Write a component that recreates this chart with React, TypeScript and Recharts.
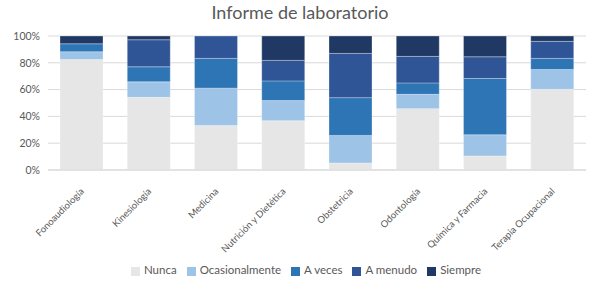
import React from 'react';
import { BarChart, Bar, XAxis, YAxis, CartesianGrid, Legend } from 'recharts';

const categories = [
  'Fonoaudiología',
  'Kinesiología',
  'Medicina',
  'Nutrición y Dietética',
  'Obstetricia',
  'Odontología',
  'Química y Farmacia',
  'Terapia Ocupacional',
];
const nunca = [82.4, 54.2, 33.3, 36.8, 5.3, 45.8, 10.5, 60.2];
const ocasionalmente = [5.9, 11.6, 27.8, 15.0, 20.5, 10.7, 15.8, 14.8];
const aVeces = [5.9, 11.2, 22.2, 14.7, 28.2, 8.5, 42.0, 8.3];
const aMenudo = [0, 20.2, 16.7, 15.3, 33.0, 19.8, 16.2, 12.7];
const siempre = [5.8, 2.8, 0, 18.2, 13.0, 15.2, 15.5, 4.0];
const yTicks = [0, 20, 40, 60, 80, 100];

const seriesNames = ['Nunca', 'Ocasionalmente', 'A veces', 'A menudo', 'Siempre'];
const seriesColors = ['#E7E6E6', '#9DC3E6', '#2E75B6', '#2F5597', '#203864'];
const seriesValues = [nunca, ocasionalmente, aVeces, aMenudo, siempre];

const data = categories.map((c, i) => {
  const row: any = { name: c };
  seriesNames.forEach((s, j) => {
    row[s] = seriesValues[j][i];
  });
  return row;
});

const FONT = 'Lato, "Liberation Sans", sans-serif';
const TEXT = '#595959';

const XTick = (props: any) => {
  const { x, y, payload } = props;
  return (
    <g transform={`translate(${x + 3},${y + 14})`}>
      <text
        x={0}
        y={0}
        textAnchor="end"
        transform="rotate(-45)"
        fill={TEXT}
        fontSize={9.5}
        fontFamily={FONT}
      >
        {payload.value}
      </text>
    </g>
  );
};

export default function App() {
  return (
    <div style={{ position: 'absolute', left: 0, top: 0, width: 600, height: 292, background: '#fff' }}>
      <div
        style={{
          position: 'absolute',
          top: 0,
          left: 0,
          width: 600,
          textAlign: 'center',
          fontFamily: FONT,
          fontSize: 18,
          color: TEXT,
          lineHeight: '24px',
        }}
      >
        Informe de laboratorio
      </div>
      <BarChart
        width={600}
        height={292}
        data={data}
        margin={{ top: 36, right: 14, left: 0, bottom: 33 }}
        barSize={43}
      >
        <CartesianGrid vertical={false} stroke="#D9D9D9" />
        <XAxis
          dataKey="name"
          tick={<XTick />}
          tickLine={false}
          axisLine={{ stroke: '#D9D9D9' }}
          interval={0}
          height={76}
        />
        <YAxis
          type="number"
          domain={[0, 100]}
          ticks={yTicks}
          tickFormatter={(v: number) => `${v}%`}
          tick={{ fill: TEXT, fontSize: 10.5, fontFamily: FONT }}
          tickLine={false}
          axisLine={false}
          width={48}
          allowDataOverflow
        />
        <Legend
          verticalAlign="bottom"
          iconType="square"
          iconSize={9}
          itemSorter={(item: any) => seriesNames.indexOf(item.value)}
          wrapperStyle={{ fontFamily: FONT, fontSize: 11.5, top: 263, left: 18 }}
          formatter={(value: string) => <span style={{ color: TEXT }}>{value}</span>}
        />
        {seriesNames.map((s, j) => (
          <Bar
            key={s}
            dataKey={s}
            stackId="a"
            fill={seriesColors[j]}
            stroke="#ffffff"
            strokeOpacity={0.4}
            strokeWidth={0.75}
            isAnimationActive={false}
          />
        ))}
      </BarChart>
    </div>
  );
}
